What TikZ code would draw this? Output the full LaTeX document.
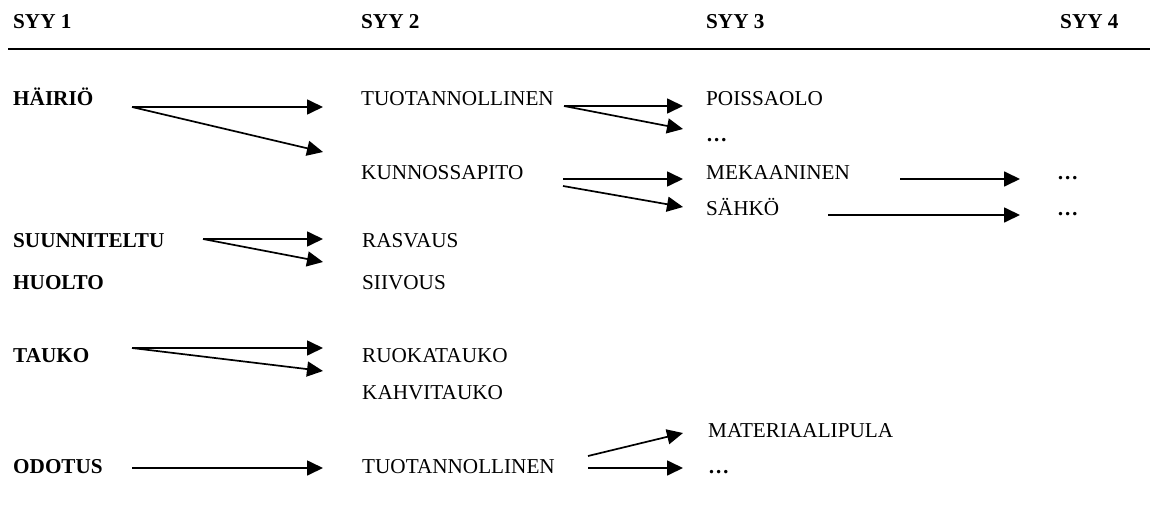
\documentclass[tikz,border=0pt]{standalone}
\usepackage{fontspec}
\setmainfont{Liberation Serif}
\usetikzlibrary{arrows.meta}

\tikzset{
    lbl/.style={anchor=base west, inner sep=0pt, font=\fontsize{21.2}{25}\selectfont},
    blbl/.style={lbl, font=\fontsize{21.2}{25}\selectfont\bfseries},
    arr/.style={line width=1.7pt, -{Triangle[length=16pt,width=15pt]}}
}

\begin{document}
\begin{tikzpicture}[x=1pt,y=-1pt]
        \useasboundingbox (0,0) rectangle (1150,524);
        % headings and rule
        \node[blbl] (syy1) at (13,29) {SYY 1};
        \node[blbl] (syy2) at (361,29) {SYY 2};
        \node[blbl] (syy3) at (706,29) {SYY 3};
        \node[blbl] (syy4) at (1060,29) {SYY 4};
        \draw[line width=2pt] (8,49) -- (1150,49);
        % level 1
        \node[blbl] (hairio) at (13,106) {HÄIRIÖ};
        \node[blbl] (suunn) at (13,247) {SUUNNITELTU};
        \node[blbl] (huolto) at (13,289) {HUOLTO};
        \node[blbl] (tauko) at (13,362) {TAUKO};
        \node[blbl] (odotus) at (13,473) {ODOTUS};
        % level 2
        \node[lbl] (tuot) at (361,106) {TUOTANNOLLINEN};
        \node[lbl] (kunn) at (361,179) {KUNNOSSAPITO};
        \node[lbl] (rasv) at (362,247) {RASVAUS};
        \node[lbl] (siiv) at (362,289) {SIIVOUS};
        \node[lbl] (ruoka) at (362,362) {RUOKATAUKO};
        \node[lbl] (kahvi) at (362,399) {KAHVITAUKO};
        \node[lbl] (tuotb) at (362,473) {TUOTANNOLLINEN};
        % level 3
        \node[lbl] (poissa) at (706,106) {POISSAOLO};
        \node[blbl] (etc1) at (706,142) {…};
        \node[lbl] (meka) at (706,179) {MEKAANINEN};
        \node[lbl] (sahko) at (706,215) {SÄHKÖ};
        \node[lbl] (mater) at (708,437) {MATERIAALIPULA};
        \node[blbl] (etc2) at (708,473) {…};
        % level 4
        \node[blbl] (etc3) at (1057,179) {…};
        \node[blbl] (etc4) at (1057,215) {…};
        % arrow ends
        \coordinate (hA) at (132,107);
        \coordinate (hB) at (323,107);
        \coordinate (hC) at (323,152);
        \coordinate (tA) at (564,106);
        \coordinate (tB) at (683,106);
        \coordinate (tC) at (683,129);
        \coordinate (kA) at (563,179);
        \coordinate (kB) at (683,179);
        \coordinate (kA2) at (563,186);
        \coordinate (kC) at (683,207);
        \coordinate (mA) at (900,179);
        \coordinate (mB) at (1020,179);
        \coordinate (sA) at (828,215);
        \coordinate (sB) at (1020,215);
        \coordinate (uA) at (203,239);
        \coordinate (uB) at (323,239);
        \coordinate (uC) at (323,262);
        \coordinate (aA) at (132,348);
        \coordinate (aB) at (323,348);
        \coordinate (aC) at (323,371);
        \coordinate (oA) at (132,468);
        \coordinate (oB) at (323,468);
        \coordinate (bA) at (588,468);
        \coordinate (bB) at (683,468);
        \coordinate (bA2) at (588,456);
        \coordinate (bC) at (683,433);
        % arrows
        \draw[arr] (hA) -- (hB);
        \draw[arr] (hA) -- (hC);
        \draw[arr] (tA) -- (tB);
        \draw[arr] (tA) -- (tC);
        \draw[arr] (kA) -- (kB);
        \draw[arr] (kA2) -- (kC);
        \draw[arr] (mA) -- (mB);
        \draw[arr] (sA) -- (sB);
        \draw[arr] (uA) -- (uB);
        \draw[arr] (uA) -- (uC);
        \draw[arr] (aA) -- (aB);
        \draw[arr] (aA) -- (aC);
        \draw[arr] (oA) -- (oB);
        \draw[arr] (bA) -- (bB);
        \draw[arr] (bA2) -- (bC);
\end{tikzpicture}
\end{document}
